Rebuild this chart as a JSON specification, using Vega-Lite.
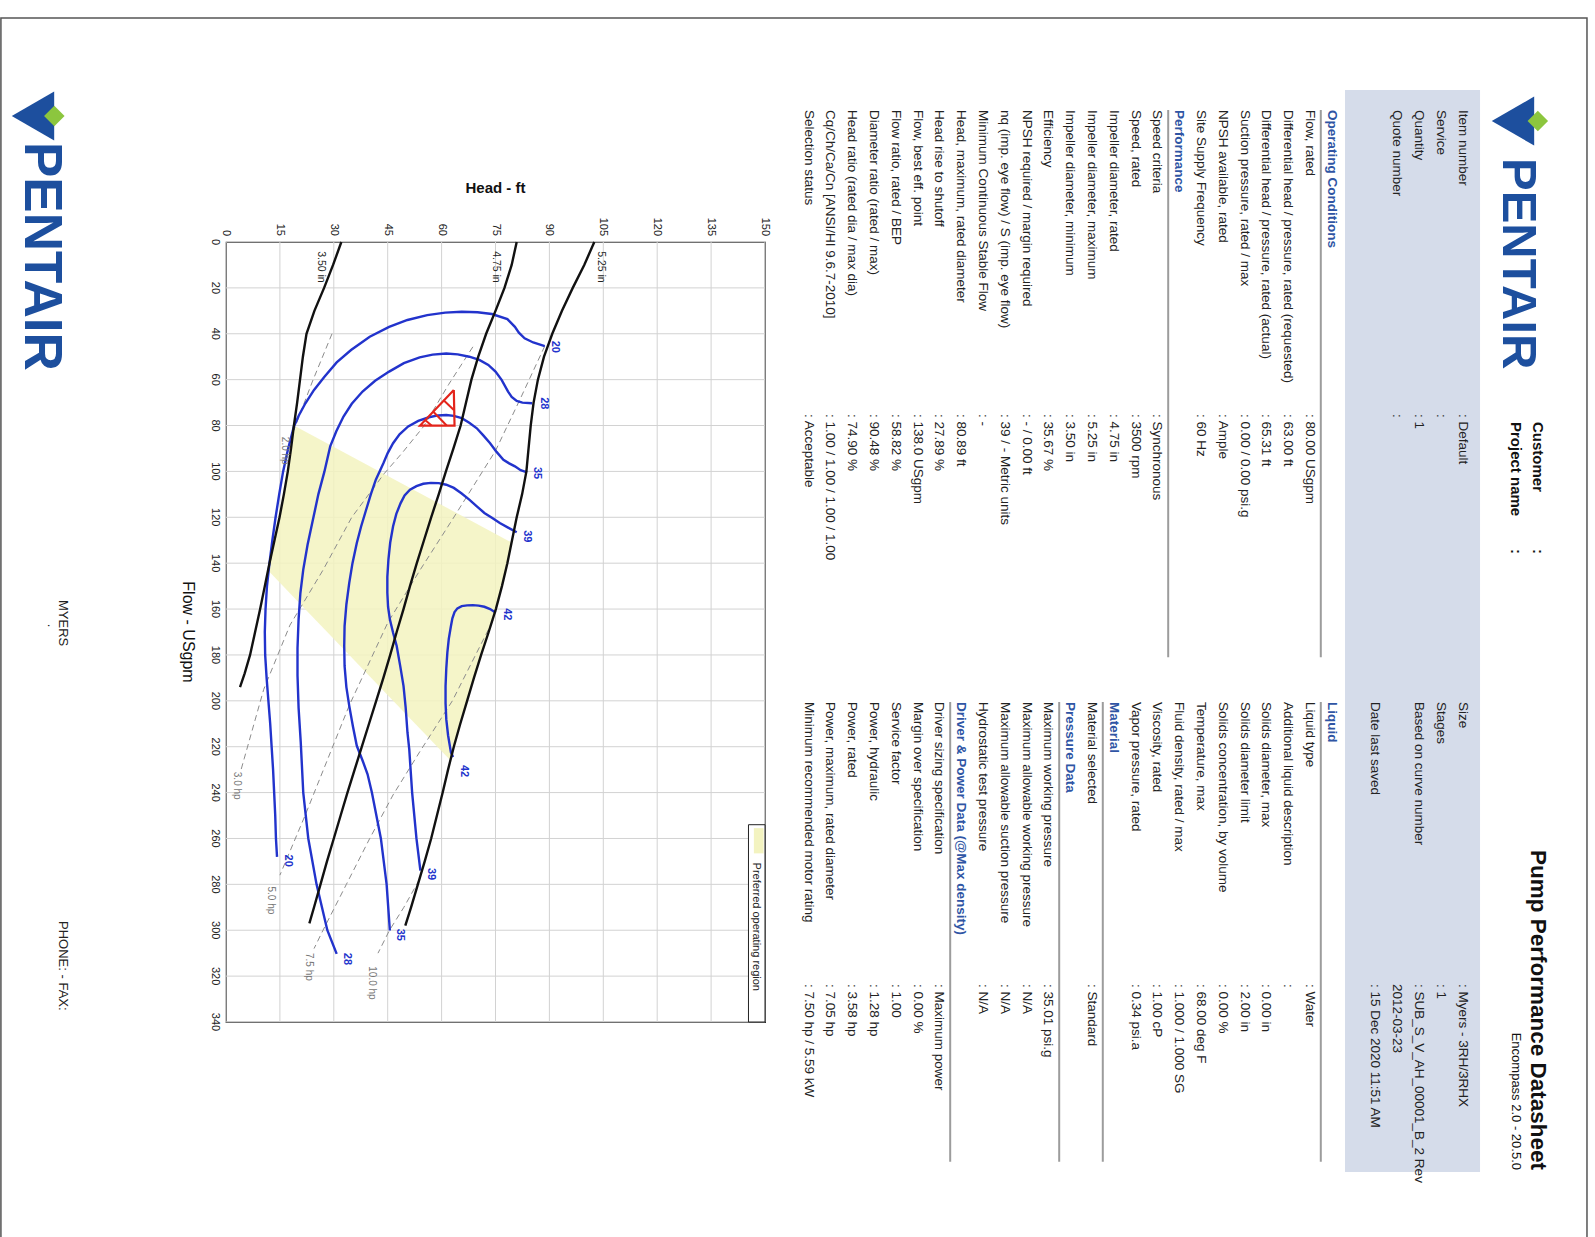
{
  "$schema": "https://vega.github.io/schema/vega-lite/v6.json",
  "width": 539,
  "height": 780,
  "autosize": {"type": "none"},
  "padding": {"left": 226, "top": 242, "right": 830, "bottom": 215},
  "background": "#ffffff",
  "config": {
    "font": "Liberation Sans",
    "view": {"stroke": "#111111", "strokeWidth": 1.2},
    "text": {"font": "Liberation Sans"}
  },
  "datasets": {
    "hTicks": [{"h":0},{"h":15},{"h":30},{"h":45},{"h":60},{"h":75},{"h":90},{"h":105},{"h":120},{"h":135},{"h":150}],
    "fTicks": [{"f":0},{"f":20},{"f":40},{"f":60},{"f":80},{"f":100},{"f":120},{"f":140},{"f":160},{"f":180},{"f":200},{"f":220},{"f":240},{"f":260},{"f":280},{"f":300},{"f":320},{"f":340}],
    "dia": [
      {"d":"5.25","flow":0,"head":102.5},{"d":"5.25","flow":10,"head":99.7},{"d":"5.25","flow":20,"head":96.5},{"d":"5.25","flow":30,"head":93.5},{"d":"5.25","flow":40,"head":90.8},{"d":"5.25","flow":50,"head":88.5},{"d":"5.25","flow":60,"head":86.8},{"d":"5.25","flow":70,"head":85.6},{"d":"5.25","flow":80,"head":84.8},{"d":"5.25","flow":90,"head":84.2},{"d":"5.25","flow":100,"head":83.6},{"d":"5.25","flow":110,"head":82.4},{"d":"5.25","flow":120,"head":80.9},{"d":"5.25","flow":130,"head":79.6},{"d":"5.25","flow":140,"head":78.3},{"d":"5.25","flow":150,"head":76.8},{"d":"5.25","flow":160,"head":75.1},{"d":"5.25","flow":170,"head":73.1},{"d":"5.25","flow":180,"head":71},{"d":"5.25","flow":190,"head":69},{"d":"5.25","flow":200,"head":67.1},{"d":"5.25","flow":210,"head":65.2},{"d":"5.25","flow":220,"head":63.4},{"d":"5.25","flow":230,"head":61.8},{"d":"5.25","flow":240,"head":60.3},{"d":"5.25","flow":250,"head":58.7},{"d":"5.25","flow":260,"head":57.1},{"d":"5.25","flow":270,"head":55.3},{"d":"5.25","flow":280,"head":53.4},{"d":"5.25","flow":290,"head":51.5},{"d":"5.25","flow":298,"head":49.9},
      {"d":"4.75","flow":0,"head":80.9},{"d":"4.75","flow":10,"head":79.5},{"d":"4.75","flow":20,"head":77.5},{"d":"4.75","flow":30,"head":75},{"d":"4.75","flow":40,"head":72.4},{"d":"4.75","flow":50,"head":70.2},{"d":"4.75","flow":60,"head":68.3},{"d":"4.75","flow":70,"head":66.8},{"d":"4.75","flow":80,"head":65.3},{"d":"4.75","flow":90,"head":63.3},{"d":"4.75","flow":100,"head":61.2},{"d":"4.75","flow":110,"head":59.2},{"d":"4.75","flow":120,"head":57.1},{"d":"4.75","flow":130,"head":55.1},{"d":"4.75","flow":140,"head":53.1},{"d":"4.75","flow":150,"head":51.2},{"d":"4.75","flow":160,"head":49.4},{"d":"4.75","flow":170,"head":47.5},{"d":"4.75","flow":180,"head":45.7},{"d":"4.75","flow":190,"head":43.8},{"d":"4.75","flow":200,"head":41.8},{"d":"4.75","flow":210,"head":39.8},{"d":"4.75","flow":220,"head":37.8},{"d":"4.75","flow":230,"head":35.8},{"d":"4.75","flow":240,"head":33.8},{"d":"4.75","flow":250,"head":31.9},{"d":"4.75","flow":260,"head":30},{"d":"4.75","flow":270,"head":28.1},{"d":"4.75","flow":280,"head":26.3},{"d":"4.75","flow":290,"head":24.5},{"d":"4.75","flow":297,"head":23.2},
      {"d":"3.50","flow":0,"head":32.1},{"d":"3.50","flow":10,"head":29.8},{"d":"3.50","flow":20,"head":27.3},{"d":"3.50","flow":30,"head":24.6},{"d":"3.50","flow":40,"head":22.4},{"d":"3.50","flow":50,"head":21.4},{"d":"3.50","flow":60,"head":20.6},{"d":"3.50","flow":70,"head":19.8},{"d":"3.50","flow":80,"head":18.9},{"d":"3.50","flow":90,"head":18.1},{"d":"3.50","flow":100,"head":17.2},{"d":"3.50","flow":110,"head":16.1},{"d":"3.50","flow":120,"head":14.9},{"d":"3.50","flow":130,"head":13.5},{"d":"3.50","flow":140,"head":12.1},{"d":"3.50","flow":150,"head":10.8},{"d":"3.50","flow":160,"head":9.5},{"d":"3.50","flow":170,"head":8.1},{"d":"3.50","flow":180,"head":6.7},{"d":"3.50","flow":188,"head":5.2},{"d":"3.50","flow":194,"head":3.9}
    ],
    "eff": [
      {"e":"20","i":0,"head":88.7,"flow":45.4},{"e":"20","i":1,"head":85.5,"flow":43.8},{"e":"20","i":2,"head":83.1,"flow":42},{"e":"20","i":3,"head":81.5,"flow":39.5},{"e":"20","i":4,"head":80.4,"flow":37},{"e":"20","i":5,"head":78.3,"flow":33.6},{"e":"20","i":6,"head":74,"flow":31.4},{"e":"20","i":7,"head":70,"flow":30.6},{"e":"20","i":8,"head":65.6,"flow":30.4},{"e":"20","i":9,"head":61,"flow":30.8},{"e":"20","i":10,"head":56,"flow":31.9},{"e":"20","i":11,"head":50.5,"flow":34},{"e":"20","i":12,"head":45.4,"flow":37},{"e":"20","i":13,"head":40,"flow":41.3},{"e":"20","i":14,"head":34.8,"flow":47.1},{"e":"20","i":15,"head":30.8,"flow":52.5},{"e":"20","i":16,"head":27.4,"flow":58.7},{"e":"20","i":17,"head":24.5,"flow":64.5},{"e":"20","i":18,"head":22.1,"flow":70.3},{"e":"20","i":19,"head":20.3,"flow":75.5},{"e":"20","i":20,"head":18.9,"flow":80.4},{"e":"20","i":21,"head":17.3,"flow":90},{"e":"20","i":22,"head":15.9,"flow":100},{"e":"20","i":23,"head":14.8,"flow":110},{"e":"20","i":24,"head":13.8,"flow":120},{"e":"20","i":25,"head":12.9,"flow":130},{"e":"20","i":26,"head":12.1,"flow":140},{"e":"20","i":27,"head":11.4,"flow":150},{"e":"20","i":28,"head":11,"flow":160},{"e":"20","i":29,"head":10.8,"flow":170},{"e":"20","i":30,"head":10.9,"flow":180},{"e":"20","i":31,"head":11.3,"flow":190},{"e":"20","i":32,"head":11.8,"flow":200},{"e":"20","i":33,"head":12.3,"flow":210},{"e":"20","i":34,"head":12.7,"flow":220},{"e":"20","i":35,"head":13.1,"flow":230},{"e":"20","i":36,"head":13.4,"flow":240},{"e":"20","i":37,"head":13.7,"flow":250},{"e":"20","i":38,"head":13.9,"flow":260},{"e":"20","i":39,"head":14.2,"flow":268},
      {"e":"28","i":0,"head":85.2,"flow":70.3},{"e":"28","i":1,"head":82.5,"flow":70},{"e":"28","i":2,"head":80.9,"flow":69.3},{"e":"28","i":3,"head":79.5,"flow":67.5},{"e":"28","i":4,"head":78.5,"flow":65.2},{"e":"28","i":5,"head":76.7,"flow":60.1},{"e":"28","i":6,"head":75,"flow":56.5},{"e":"28","i":7,"head":73,"flow":53.6},{"e":"28","i":8,"head":70.5,"flow":51.4},{"e":"28","i":9,"head":67.7,"flow":50},{"e":"28","i":10,"head":64.5,"flow":49},{"e":"28","i":11,"head":61.3,"flow":48.6},{"e":"28","i":12,"head":57.5,"flow":49.1},{"e":"28","i":13,"head":53.9,"flow":50.3},{"e":"28","i":14,"head":49.5,"flow":52.8},{"e":"28","i":15,"head":45.4,"flow":56.5},{"e":"28","i":16,"head":41.5,"flow":60.5},{"e":"28","i":17,"head":38,"flow":65.2},{"e":"28","i":18,"head":35,"flow":70.5},{"e":"28","i":19,"head":32.7,"flow":76.1},{"e":"28","i":20,"head":30.7,"flow":82.5},{"e":"28","i":21,"head":29,"flow":89.1},{"e":"28","i":22,"head":27.4,"flow":100},{"e":"28","i":23,"head":25.7,"flow":110},{"e":"28","i":24,"head":24.2,"flow":121},{"e":"28","i":25,"head":22.7,"flow":132},{"e":"28","i":26,"head":21.5,"flow":142.8},{"e":"28","i":27,"head":20.7,"flow":153},{"e":"28","i":28,"head":20.2,"flow":164.5},{"e":"28","i":29,"head":19.9,"flow":177},{"e":"28","i":30,"head":19.9,"flow":189},{"e":"28","i":31,"head":20.2,"flow":203},{"e":"28","i":32,"head":20.8,"flow":218},{"e":"28","i":33,"head":21.5,"flow":240},{"e":"28","i":34,"head":22.9,"flow":260},{"e":"28","i":35,"head":25.2,"flow":280},{"e":"28","i":36,"head":28.2,"flow":300},{"e":"28","i":37,"head":30.8,"flow":310.3},
      {"e":"35","i":0,"head":83.8,"flow":100.4},{"e":"35","i":1,"head":82,"flow":99.5},{"e":"35","i":2,"head":80.4,"flow":97.8},{"e":"35","i":3,"head":78.8,"flow":96.5},{"e":"35","i":4,"head":77.2,"flow":94.9},{"e":"35","i":5,"head":75.3,"flow":91.5},{"e":"35","i":6,"head":73.5,"flow":87.7},{"e":"35","i":7,"head":71.6,"flow":84.3},{"e":"35","i":8,"head":69.8,"flow":81.2},{"e":"35","i":9,"head":67.7,"flow":78.8},{"e":"35","i":10,"head":65.6,"flow":76.8},{"e":"35","i":11,"head":63.4,"flow":75.8},{"e":"35","i":12,"head":61.3,"flow":75.4},{"e":"35","i":13,"head":59,"flow":75.6},{"e":"35","i":14,"head":56.5,"flow":76.4},{"e":"35","i":15,"head":53.5,"flow":78},{"e":"35","i":16,"head":50.7,"flow":80.4},{"e":"35","i":17,"head":48.3,"flow":83.8},{"e":"35","i":18,"head":46.5,"flow":87.7},{"e":"35","i":19,"head":45,"flow":92},{"e":"35","i":20,"head":43.8,"flow":96.4},{"e":"35","i":21,"head":41.7,"flow":103.6},{"e":"35","i":22,"head":40.3,"flow":110},{"e":"35","i":23,"head":39,"flow":116.7},{"e":"35","i":24,"head":37.6,"flow":124},{"e":"35","i":25,"head":36.4,"flow":131.2},{"e":"35","i":26,"head":35.2,"flow":140},{"e":"35","i":27,"head":34.3,"flow":148.6},{"e":"35","i":28,"head":33.5,"flow":158},{"e":"35","i":29,"head":33,"flow":167.4},{"e":"35","i":30,"head":32.9,"flow":176},{"e":"35","i":31,"head":33,"flow":184.8},{"e":"35","i":32,"head":33.5,"flow":194},{"e":"35","i":33,"head":34.3,"flow":202.2},{"e":"35","i":34,"head":35.3,"flow":211},{"e":"35","i":35,"head":36.4,"flow":219.6},{"e":"35","i":36,"head":38,"flow":226},{"e":"35","i":37,"head":39.4,"flow":232},{"e":"35","i":38,"head":40.6,"flow":240},{"e":"35","i":39,"head":43.1,"flow":260},{"e":"35","i":40,"head":44.7,"flow":280},{"e":"35","i":41,"head":45.6,"flow":300.1},
      {"e":"39","i":0,"head":80.9,"flow":126.5},{"e":"39","i":1,"head":78.5,"flow":124.5},{"e":"39","i":2,"head":76.2,"flow":122.5},{"e":"39","i":3,"head":74,"flow":120.2},{"e":"39","i":4,"head":71.9,"flow":118.1},{"e":"39","i":5,"head":69.8,"flow":115.2},{"e":"39","i":6,"head":67.7,"flow":112.3},{"e":"39","i":7,"head":65.5,"flow":109.5},{"e":"39","i":8,"head":63.4,"flow":107.2},{"e":"39","i":9,"head":61.3,"flow":105.8},{"e":"39","i":10,"head":59.2,"flow":105.1},{"e":"39","i":11,"head":57,"flow":105},{"e":"39","i":12,"head":54.9,"flow":105.4},{"e":"39","i":13,"head":53,"flow":106.4},{"e":"39","i":14,"head":51.2,"flow":108},{"e":"39","i":15,"head":49.7,"flow":110.5},{"e":"39","i":16,"head":48.6,"flow":113.8},{"e":"39","i":17,"head":47.4,"flow":118.5},{"e":"39","i":18,"head":46.5,"flow":123.9},{"e":"39","i":19,"head":45.7,"flow":131},{"e":"39","i":20,"head":45.2,"flow":138.4},{"e":"39","i":21,"head":44.9,"flow":146},{"e":"39","i":22,"head":44.9,"flow":152.9},{"e":"39","i":23,"head":45.1,"flow":159},{"e":"39","i":24,"head":45.6,"flow":164.5},{"e":"39","i":25,"head":46.5,"flow":170.3},{"e":"39","i":26,"head":47.5,"flow":176.1},{"e":"39","i":27,"head":48.5,"flow":185},{"e":"39","i":28,"head":49.4,"flow":193.5},{"e":"39","i":29,"head":50,"flow":203},{"e":"39","i":30,"head":50.5,"flow":213.8},{"e":"39","i":31,"head":51,"flow":221.2},{"e":"39","i":32,"head":51.8,"flow":240},{"e":"39","i":33,"head":53,"flow":260},{"e":"39","i":34,"head":54.1,"flow":274},
      {"e":"42","i":0,"head":75.1,"flow":161.6},{"e":"42","i":1,"head":73.5,"flow":160},{"e":"42","i":2,"head":71.9,"flow":159},{"e":"42","i":3,"head":70.3,"flow":158.5},{"e":"42","i":4,"head":68.7,"flow":158.3},{"e":"42","i":5,"head":67.1,"flow":158.4},{"e":"42","i":6,"head":65.6,"flow":158.7},{"e":"42","i":7,"head":64.4,"flow":159.7},{"e":"42","i":8,"head":63.6,"flow":161.3},{"e":"42","i":9,"head":63,"flow":164},{"e":"42","i":10,"head":62.6,"flow":167.4},{"e":"42","i":11,"head":62,"flow":173},{"e":"42","i":12,"head":61.6,"flow":179},{"e":"42","i":13,"head":61.3,"flow":186},{"e":"42","i":14,"head":61.1,"flow":193.5},{"e":"42","i":15,"head":61.1,"flow":201},{"e":"42","i":16,"head":61.3,"flow":208},{"e":"42","i":17,"head":61.8,"flow":215},{"e":"42","i":18,"head":62.6,"flow":222.5},{"e":"42","i":19,"head":63.2,"flow":224.5}
    ],
    "pwr": [
      {"p":"2.0","flow":40,"head":29.5},{"p":"2.0","flow":61,"head":24},{"p":"2.0","flow":82,"head":18.9},
      {"p":"3.0","flow":45.7,"head":68.7},{"p":"3.0","flow":62,"head":62},{"p":"3.0","flow":80.4,"head":55},{"p":"3.0","flow":92,"head":49},{"p":"3.0","flow":101,"head":44},{"p":"3.0","flow":120,"head":35},{"p":"3.0","flow":143,"head":27},{"p":"3.0","flow":167,"head":17.8},{"p":"3.0","flow":195,"head":10.5},{"p":"3.0","flow":225,"head":5.1},{"p":"3.0","flow":230,"head":4.2},
      {"p":"5.0","flow":45.4,"head":88.7},{"p":"5.0","flow":68,"head":82},{"p":"5.0","flow":91,"head":75},{"p":"5.0","flow":121,"head":63},{"p":"5.0","flow":143,"head":54},{"p":"5.0","flow":166,"head":45},{"p":"5.0","flow":202,"head":34.3},{"p":"5.0","flow":250,"head":22},{"p":"5.0","flow":276,"head":15},
      {"p":"7.5","flow":165,"head":74.3},{"p":"7.5","flow":200,"head":63},{"p":"7.5","flow":222,"head":54},{"p":"7.5","flow":241,"head":46.5},{"p":"7.5","flow":260,"head":40},{"p":"7.5","flow":280,"head":33.5},{"p":"7.5","flow":300,"head":27},{"p":"7.5","flow":308,"head":24.5},
      {"p":"10.0","flow":278,"head":53.8},{"p":"10.0","flow":290,"head":49.5},{"p":"10.0","flow":300,"head":45.5},{"p":"10.0","flow":310,"head":42.3}
    ],
    "por": [
      {"flow":80,"lo":18.9,"hi":18.9},{"flow":90,"lo":18.1,"hi":30.8},{"flow":100,"lo":17.2,"hi":42.7},{"flow":110,"lo":16.1,"hi":54.5},{"flow":120,"lo":14.9,"hi":66.4},{"flow":131,"lo":13.4,"hi":79.5},{"flow":140,"lo":12.1,"hi":78.3},{"flow":143,"lo":11.6,"hi":77.9},{"flow":160,"lo":22,"hi":75.1},{"flow":180,"lo":34.3,"hi":71},{"flow":200,"lo":46.5,"hi":67.1},{"flow":220,"lo":58.8,"hi":63.4},{"flow":226,"lo":62.5,"hi":62.5}
    ],
    "effLabels": [
      {"t":"20","head":91.5,"flow":45.7},{"t":"28","head":88.4,"flow":70.3},{"t":"35","head":86.6,"flow":100.7},{"t":"39","head":83.8,"flow":128.3},{"t":"42","head":78.3,"flow":162.3},
      {"t":"42","head":66.1,"flow":230.6},{"t":"39","head":57.1,"flow":275.5},{"t":"35","head":48.4,"flow":302},{"t":"28","head":33.7,"flow":312.5},{"t":"20","head":17.3,"flow":269.7}
    ],
    "pwrLabels": [
      {"t":"2.0 hp","head":16.5,"flow":91},{"t":"3.0 hp","head":3,"flow":237},{"t":"5.0 hp","head":12.5,"flow":287},{"t":"7.5 hp","head":23.1,"flow":316},{"t":"10.0 hp","head":40.6,"flow":323}
    ],
    "diaLabels": [
      {"t":"5.25 in","head":104.3,"flow":4},{"t":"4.75 in","head":75.1,"flow":4},{"t":"3.50 in","head":26.5,"flow":4}
    ],
    "rated": [
      {"i":0,"head":63.4,"flow":64.5},{"i":1,"head":63.6,"flow":80},{"i":2,"head":54,"flow":80},{"i":3,"head":63.4,"flow":64.5}
    ],
    "hatch": [
      {"h1":60.5,"f1":68.9,"h2":63.4,"f2":73.2},{"h1":57.7,"f1":74,"h2":61.4,"f2":80},{"h1":55.4,"f1":77.6,"h2":57.2,"f2":80}
    ],
    "tableL": [
      {"line":-7,"label":"Item number","value":": Default"},
      {"line":-6,"label":"Service","value":":"},
      {"line":-5,"label":"Quantity","value":": 1"},
      {"line":-4,"label":"Quote number","value":":"},
      {"line":-1,"label":"Operating Conditions","head":true},
      {"line":0,"label":"Flow, rated","value":": 80.00 USgpm"},
      {"line":1,"label":"Differential head / pressure, rated (requested)","value":": 63.00 ft"},
      {"line":2,"label":"Differential head / pressure, rated (actual)","value":": 65.31 ft"},
      {"line":3,"label":"Suction pressure, rated / max","value":": 0.00 / 0.00 psi.g"},
      {"line":4,"label":"NPSH available, rated","value":": Ample"},
      {"line":5,"label":"Site Supply Frequency","value":": 60 Hz"},
      {"line":6,"label":"Performance","head":true},
      {"line":7,"label":"Speed criteria","value":": Synchronous"},
      {"line":8,"label":"Speed, rated","value":": 3500 rpm"},
      {"line":9,"label":"Impeller diameter, rated","value":": 4.75 in"},
      {"line":10,"label":"Impeller diameter, maximum","value":": 5.25 in"},
      {"line":11,"label":"Impeller diameter, minimum","value":": 3.50 in"},
      {"line":12,"label":"Efficiency","value":": 35.67 %"},
      {"line":13,"label":"NPSH required / margin required","value":": - / 0.00 ft"},
      {"line":14,"label":"nq (imp. eye flow) / S (imp. eye flow)","value":": 39 / - Metric units"},
      {"line":15,"label":"Minimum Continuous Stable Flow","value":": -"},
      {"line":16,"label":"Head, maximum, rated diameter","value":": 80.89 ft"},
      {"line":17,"label":"Head rise to shutoff","value":": 27.89 %"},
      {"line":18,"label":"Flow, best eff. point","value":": 138.0 USgpm"},
      {"line":19,"label":"Flow ratio, rated / BEP","value":": 58.82 %"},
      {"line":20,"label":"Diameter ratio (rated / max)","value":": 90.48 %"},
      {"line":21,"label":"Head ratio (rated dia / max dia)","value":": 74.90 %"},
      {"line":22,"label":"Cq/Ch/Ca/Cn [ANSI/HI 9.6.7-2010]","value":": 1.00 / 1.00 / 1.00 / 1.00"},
      {"line":23,"label":"Selection status","value":": Acceptable"}
    ],
    "tableR": [
      {"line":-7,"label":"Size","value":": Myers - 3RH/3RHX"},
      {"line":-6,"label":"Stages","value":": 1"},
      {"line":-5,"label":"Based on curve number","value":": SUB_S_V_AH_00001_B_2 Rev"},
      {"line":-4,"value":"  2012-03-23"},
      {"line":-3,"label":"Date last saved","value":": 15 Dec 2020 11:51 AM"},
      {"line":-1,"label":"Liquid","head":true},
      {"line":0,"label":"Liquid type","value":": Water"},
      {"line":1,"label":"Additional liquid description","value":":"},
      {"line":2,"label":"Solids diameter, max","value":": 0.00 in"},
      {"line":3,"label":"Solids diameter limit","value":": 2.00 in"},
      {"line":4,"label":"Solids concentration, by volume","value":": 0.00 %"},
      {"line":5,"label":"Temperature, max","value":": 68.00 deg F"},
      {"line":6,"label":"Fluid density, rated / max","value":": 1.000 / 1.000 SG"},
      {"line":7,"label":"Viscosity, rated","value":": 1.00 cP"},
      {"line":8,"label":"Vapor pressure, rated","value":": 0.34 psi.a"},
      {"line":9,"label":"Material","head":true},
      {"line":10,"label":"Material selected","value":": Standard"},
      {"line":11,"label":"Pressure Data","head":true},
      {"line":12,"label":"Maximum working pressure","value":": 35.01 psi.g"},
      {"line":13,"label":"Maximum allowable working pressure","value":": N/A"},
      {"line":14,"label":"Maximum allowable suction pressure","value":": N/A"},
      {"line":15,"label":"Hydrostatic test pressure","value":": N/A"},
      {"line":16,"label":"Driver & Power Data (@Max density)","head":true},
      {"line":17,"label":"Driver sizing specification","value":": Maximum power"},
      {"line":18,"label":"Margin over specification","value":": 0.00 %"},
      {"line":19,"label":"Service factor","value":": 1.00"},
      {"line":20,"label":"Power, hydraulic","value":": 1.28 hp"},
      {"line":21,"label":"Power, rated","value":": 3.58 hp"},
      {"line":22,"label":"Power, maximum, rated diameter","value":": 7.05 hp"},
      {"line":23,"label":"Minimum recommended motor rating","value":": 7.50 hp / 5.59 kW"}
    ]
  },
  "layer": [
    {
      "layer": [
        {
          "data": {"name": "hTicks"},
          "mark": {"type": "rule", "color": "#d2d2d2", "strokeWidth": 1},
          "encoding": {
            "x": {"field": "h", "type": "quantitative", "scale": {"domain": [0, 150], "nice": false, "zero": false}, "axis": null},
            "y": {"datum": 0, "type": "quantitative", "scale": {"domain": [0, 340], "nice": false, "zero": false, "reverse": true}, "axis": null},
            "y2": {"datum": 340}
          }
        },
        {
          "data": {"name": "fTicks"},
          "mark": {"type": "rule", "color": "#d2d2d2", "strokeWidth": 1},
          "encoding": {
            "y": {"field": "f", "type": "quantitative", "scale": {"domain": [0, 340], "nice": false, "zero": false, "reverse": true}, "axis": null},
            "x": {"datum": 0, "type": "quantitative", "scale": {"domain": [0, 150], "nice": false, "zero": false}, "axis": null},
            "x2": {"datum": 150}
          }
        },
        {
          "data": {"name": "por"},
          "mark": {"type": "area", "orient": "horizontal", "color": "#f3f3c0", "opacity": 0.85},
          "encoding": {
            "y": {"field": "flow", "type": "quantitative", "scale": {"domain": [0, 340], "nice": false, "zero": false, "reverse": true}, "axis": null},
            "x": {"field": "lo", "type": "quantitative", "scale": {"domain": [0, 150], "nice": false, "zero": false}, "axis": null},
            "x2": {"field": "hi"}
          }
        },
        {
          "data": {"name": "hTicks"},
          "mark": {"type": "text", "angle": 90, "align": "right", "baseline": "middle", "fontSize": 11, "color": "#222222", "yOffset": -6},
          "encoding": {
            "x": {"field": "h", "type": "quantitative", "scale": {"domain": [0, 150], "nice": false, "zero": false}, "axis": null},
            "y": {"datum": 0, "type": "quantitative", "scale": {"domain": [0, 340], "nice": false, "zero": false, "reverse": true}, "axis": null},
            "text": {"field": "h", "type": "quantitative"}
          }
        },
        {
          "data": {"name": "fTicks"},
          "mark": {"type": "text", "angle": 90, "align": "center", "baseline": "top", "fontSize": 11, "color": "#222222", "xOffset": -5},
          "encoding": {
            "y": {"field": "f", "type": "quantitative", "scale": {"domain": [0, 340], "nice": false, "zero": false, "reverse": true}, "axis": null},
            "x": {"datum": 0, "type": "quantitative", "scale": {"domain": [0, 150], "nice": false, "zero": false}, "axis": null},
            "text": {"field": "f", "type": "quantitative"}
          }
        },
        {
          "data": {"values": [{}]},
          "mark": {"type": "text", "text": "Head - ft", "align": "center", "baseline": "middle", "fontSize": 15, "fontWeight": "bold", "color": "#111111", "yOffset": -54},
          "encoding": {
            "x": {"datum": 75, "type": "quantitative", "scale": {"domain": [0, 150], "nice": false, "zero": false}, "axis": null},
            "y": {"datum": 0, "type": "quantitative", "scale": {"domain": [0, 340], "nice": false, "zero": false, "reverse": true}, "axis": null}
          }
        },
        {
          "data": {"values": [{}]},
          "mark": {"type": "text", "text": "Flow - USgpm", "angle": 90, "align": "center", "baseline": "middle", "fontSize": 16, "color": "#111111", "xOffset": -38},
          "encoding": {
            "x": {"datum": 0, "type": "quantitative", "scale": {"domain": [0, 150], "nice": false, "zero": false}, "axis": null},
            "y": {"datum": 170, "type": "quantitative", "scale": {"domain": [0, 340], "nice": false, "zero": false, "reverse": true}, "axis": null}
          }
        },
        {
          "data": {"name": "pwr"},
          "mark": {"type": "line", "color": "#8c8c8c", "strokeWidth": 1, "strokeDash": [6, 4]},
          "encoding": {
            "x": {"field": "head", "type": "quantitative", "scale": {"domain": [0, 150], "nice": false, "zero": false}, "axis": null},
            "y": {"field": "flow", "type": "quantitative", "scale": {"domain": [0, 340], "nice": false, "zero": false, "reverse": true}, "axis": null},
            "detail": {"field": "p", "type": "nominal"},
            "order": {"field": "flow", "type": "quantitative"}
          }
        },
        {
          "data": {"name": "eff"},
          "mark": {"type": "line", "color": "#2233cc", "strokeWidth": 2.4},
          "encoding": {
            "x": {"field": "head", "type": "quantitative", "scale": {"domain": [0, 150], "nice": false, "zero": false}, "axis": null},
            "y": {"field": "flow", "type": "quantitative", "scale": {"domain": [0, 340], "nice": false, "zero": false, "reverse": true}, "axis": null},
            "detail": {"field": "e", "type": "nominal"},
            "order": {"field": "i", "type": "quantitative"}
          }
        },
        {
          "data": {"name": "dia"},
          "mark": {"type": "line", "color": "#111111", "strokeWidth": 2.4},
          "encoding": {
            "x": {"field": "head", "type": "quantitative", "scale": {"domain": [0, 150], "nice": false, "zero": false}, "axis": null},
            "y": {"field": "flow", "type": "quantitative", "scale": {"domain": [0, 340], "nice": false, "zero": false, "reverse": true}, "axis": null},
            "detail": {"field": "d", "type": "nominal"},
            "order": {"field": "flow", "type": "quantitative"}
          }
        },
        {
          "data": {"name": "rated"},
          "mark": {"type": "line", "color": "#e3241b", "strokeWidth": 2.2},
          "encoding": {
            "x": {"field": "head", "type": "quantitative", "scale": {"domain": [0, 150], "nice": false, "zero": false}, "axis": null},
            "y": {"field": "flow", "type": "quantitative", "scale": {"domain": [0, 340], "nice": false, "zero": false, "reverse": true}, "axis": null},
            "order": {"field": "i", "type": "quantitative"}
          }
        },
        {
          "data": {"name": "hatch"},
          "mark": {"type": "rule", "color": "#e3241b", "strokeWidth": 2},
          "encoding": {
            "x": {"field": "h1", "type": "quantitative", "scale": {"domain": [0, 150], "nice": false, "zero": false}, "axis": null},
            "x2": {"field": "h2"},
            "y": {"field": "f1", "type": "quantitative", "scale": {"domain": [0, 340], "nice": false, "zero": false, "reverse": true}, "axis": null},
            "y2": {"field": "f2"}
          }
        },
        {
          "data": {"name": "effLabels"},
          "mark": {"type": "text", "angle": 90, "align": "center", "baseline": "middle", "fontSize": 11, "fontWeight": "bold", "color": "#2233cc"},
          "encoding": {
            "x": {"field": "head", "type": "quantitative", "scale": {"domain": [0, 150], "nice": false, "zero": false}, "axis": null},
            "y": {"field": "flow", "type": "quantitative", "scale": {"domain": [0, 340], "nice": false, "zero": false, "reverse": true}, "axis": null},
            "text": {"field": "t"}
          }
        },
        {
          "data": {"name": "pwrLabels"},
          "mark": {"type": "text", "angle": 90, "align": "center", "baseline": "middle", "fontSize": 10, "color": "#777777"},
          "encoding": {
            "x": {"field": "head", "type": "quantitative", "scale": {"domain": [0, 150], "nice": false, "zero": false}, "axis": null},
            "y": {"field": "flow", "type": "quantitative", "scale": {"domain": [0, 340], "nice": false, "zero": false, "reverse": true}, "axis": null},
            "text": {"field": "t"}
          }
        },
        {
          "data": {"name": "diaLabels"},
          "mark": {"type": "text", "angle": 90, "align": "left", "baseline": "middle", "fontSize": 10.5, "color": "#222222"},
          "encoding": {
            "x": {"field": "head", "type": "quantitative", "scale": {"domain": [0, 150], "nice": false, "zero": false}, "axis": null},
            "y": {"field": "flow", "type": "quantitative", "scale": {"domain": [0, 340], "nice": false, "zero": false, "reverse": true}, "axis": null},
            "text": {"field": "t"}
          }
        },
        {
          "data": {"values": [{}]},
          "mark": {"type": "rect", "fill": "#ffffff", "stroke": "#222222", "strokeWidth": 1},
          "encoding": {
            "x": {"datum": 145.4, "type": "quantitative", "scale": {"domain": [0, 150], "nice": false, "zero": false}, "axis": null},
            "x2": {"datum": 150},
            "y": {"datum": 254, "type": "quantitative", "scale": {"domain": [0, 340], "nice": false, "zero": false, "reverse": true}, "axis": null},
            "y2": {"datum": 340}
          }
        },
        {
          "data": {"values": [{}]},
          "mark": {"type": "rect", "fill": "#f3f3c0"},
          "encoding": {
            "x": {"datum": 146.9, "type": "quantitative", "scale": {"domain": [0, 150], "nice": false, "zero": false}, "axis": null},
            "x2": {"datum": 149.6},
            "y": {"datum": 255.5, "type": "quantitative", "scale": {"domain": [0, 340], "nice": false, "zero": false, "reverse": true}, "axis": null},
            "y2": {"datum": 266.5}
          }
        },
        {
          "data": {"values": [{}]},
          "mark": {"type": "text", "text": "Preferred operating region", "angle": 90, "align": "left", "baseline": "middle", "fontSize": 11, "color": "#222222"},
          "encoding": {
            "x": {"datum": 147.6, "type": "quantitative", "scale": {"domain": [0, 150], "nice": false, "zero": false}, "axis": null},
            "y": {"datum": 270.5, "type": "quantitative", "scale": {"domain": [0, 340], "nice": false, "zero": false, "reverse": true}, "axis": null}
          }
        }
      ]
    },
    {
      "layer": [
        {
          "data": {"values": [{}]},
          "mark": {"type": "rect", "color": "#d5dcea"},
          "encoding": {
            "x": {"datum": -7.8, "type": "quantitative", "scale": {"domain": [25, 49.725], "reverse": true, "nice": false, "zero": false}, "axis": null},
            "x2": {"datum": -1.606},
            "y": {"datum": -0.0658, "type": "quantitative", "scale": {"domain": [0.43421, 3.0], "reverse": true, "nice": false, "zero": false}, "axis": null},
            "y2": {"datum": 3.4934}
          }
        },
        {
          "data": {"values": [{}]},
          "mark": {"type": "rect", "filled": false, "color": "#555555", "strokeWidth": 1.5},
          "encoding": {
            "x": {"datum": -12.706, "type": "quantitative", "scale": {"domain": [25, 49.725], "reverse": true, "nice": false, "zero": false}, "axis": null},
            "x2": {"datum": 60.05},
            "y": {"datum": -0.3026, "type": "quantitative", "scale": {"domain": [0.43421, 3.0], "reverse": true, "nice": false, "zero": false}, "axis": null},
            "y2": {"datum": 3.72}
          }
        },
        {
          "data": {"name": "tableL"},
          "transform": [{"filter": "datum.head === true"}],
          "mark": {"type": "rule", "color": "#9c9c9c", "strokeWidth": 2, "xOffset": -11},
          "encoding": {
            "x": {"field": "line", "type": "quantitative", "scale": {"domain": [25, 49.725], "reverse": true, "nice": false, "zero": false}, "axis": null},
            "y": {"datum": 0, "type": "quantitative", "scale": {"domain": [0.43421, 3.0], "reverse": true, "nice": false, "zero": false}, "axis": null},
            "y2": {"datum": 1.8}
          }
        },
        {
          "data": {"name": "tableL"},
          "transform": [{"filter": "isValid(datum.label) && datum.head !== true"}],
          "mark": {"type": "text", "angle": 90, "align": "left", "baseline": "middle", "fontSize": 13.5, "color": "#222222"},
          "encoding": {
            "x": {"field": "line", "type": "quantitative", "scale": {"domain": [25, 49.725], "reverse": true, "nice": false, "zero": false}, "axis": null},
            "y": {"datum": 0, "type": "quantitative", "scale": {"domain": [0.43421, 3.0], "reverse": true, "nice": false, "zero": false}, "axis": null},
            "text": {"field": "label"}
          }
        },
        {
          "data": {"name": "tableL"},
          "transform": [{"filter": "datum.head === true"}],
          "mark": {"type": "text", "angle": 90, "align": "left", "baseline": "middle", "fontSize": 13.5, "fontWeight": "bold", "color": "#2f55a4"},
          "encoding": {
            "x": {"field": "line", "type": "quantitative", "scale": {"domain": [25, 49.725], "reverse": true, "nice": false, "zero": false}, "axis": null},
            "y": {"datum": 0, "type": "quantitative", "scale": {"domain": [0.43421, 3.0], "reverse": true, "nice": false, "zero": false}, "axis": null},
            "text": {"field": "label"}
          }
        },
        {
          "data": {"name": "tableL"},
          "transform": [{"filter": "isValid(datum.value)"}],
          "mark": {"type": "text", "angle": 90, "align": "left", "baseline": "middle", "fontSize": 13.5, "color": "#222222"},
          "encoding": {
            "x": {"field": "line", "type": "quantitative", "scale": {"domain": [25, 49.725], "reverse": true, "nice": false, "zero": false}, "axis": null},
            "y": {"datum": 1, "type": "quantitative", "scale": {"domain": [0.43421, 3.0], "reverse": true, "nice": false, "zero": false}, "axis": null},
            "text": {"field": "value"}
          }
        },
        {
          "data": {"values": [{"t": "Customer", "line": -10.46}, {"t": "Project name", "line": -9.45}]},
          "mark": {"type": "text", "angle": 90, "align": "left", "baseline": "middle", "fontSize": 15, "fontWeight": "bold", "color": "#111111"},
          "encoding": {
            "x": {"field": "line", "type": "quantitative", "scale": {"domain": [25, 49.725], "reverse": true, "nice": false, "zero": false}, "axis": null},
            "y": {"datum": 1.0263, "type": "quantitative", "scale": {"domain": [0.43421, 3.0], "reverse": true, "nice": false, "zero": false}, "axis": null},
            "text": {"field": "t"}
          }
        },
        {
          "data": {"values": [{"t": ":", "line": -10.46}, {"t": ":", "line": -9.45}]},
          "mark": {"type": "text", "angle": 90, "align": "left", "baseline": "middle", "fontSize": 15, "fontWeight": "bold", "color": "#111111"},
          "encoding": {
            "x": {"field": "line", "type": "quantitative", "scale": {"domain": [25, 49.725], "reverse": true, "nice": false, "zero": false}, "axis": null},
            "y": {"datum": 1.4441, "type": "quantitative", "scale": {"domain": [0.43421, 3.0], "reverse": true, "nice": false, "zero": false}, "axis": null},
            "text": {"field": "t"}
          }
        },
        {
          "data": {"values": [{}]},
          "mark": {"type": "text", "text": "PENTAIR", "angle": 90, "align": "left", "baseline": "middle", "fontSize": 49, "fontWeight": "bold", "color": "#1d4f9e"},
          "encoding": {
            "x": {"datum": -9.54, "type": "quantitative", "scale": {"domain": [25, 49.725], "reverse": true, "nice": false, "zero": false}, "axis": null},
            "y": {"datum": 0.1579, "type": "quantitative", "scale": {"domain": [0.43421, 3.0], "reverse": true, "nice": false, "zero": false}, "axis": null}
          }
        },
        {
          "data": {"values": [{}]},
          "mark": {"type": "text", "text": "PENTAIR", "angle": 90, "align": "left", "baseline": "middle", "fontSize": 53, "fontWeight": "bold", "color": "#1d4f9e"},
          "encoding": {
            "x": {"datum": 58.21, "type": "quantitative", "scale": {"domain": [25, 49.725], "reverse": true, "nice": false, "zero": false}, "axis": null},
            "y": {"datum": 0.1053, "type": "quantitative", "scale": {"domain": [0.43421, 3.0], "reverse": true, "nice": false, "zero": false}, "axis": null}
          }
        },
        {
          "data": {"values": [{"line": -9.31, "c": 0.0362}, {"line": 58.58, "c": 0.0197}]},
          "mark": {"type": "point", "shape": "triangle-left", "filled": true, "opacity": 1, "color": "#1d4f9e", "size": 2400},
          "encoding": {
            "x": {"field": "line", "type": "quantitative", "scale": {"domain": [25, 49.725], "reverse": true, "nice": false, "zero": false}, "axis": null},
            "y": {"field": "c", "type": "quantitative", "scale": {"domain": [0.43421, 3.0], "reverse": true, "nice": false, "zero": false}, "axis": null}
          }
        },
        {
          "data": {"values": [{"line": -10.45, "c": 0.0362}, {"line": 57.6, "c": 0.0197}]},
          "mark": {"type": "point", "shape": "diamond", "filled": true, "opacity": 1, "color": "#8cc63e", "size": 420},
          "encoding": {
            "x": {"field": "line", "type": "quantitative", "scale": {"domain": [25, 49.725], "reverse": true, "nice": false, "zero": false}, "axis": null},
            "y": {"field": "c", "type": "quantitative", "scale": {"domain": [0.43421, 3.0], "reverse": true, "nice": false, "zero": false}, "axis": null}
          }
        },
        {
          "data": {"values": [{"t": "MYERS", "c": 1.6118}, {"t": "PHONE: - FAX:", "c": 2.6678}]},
          "mark": {"type": "text", "angle": 90, "align": "left", "baseline": "middle", "fontSize": 13, "color": "#222222"},
          "encoding": {
            "x": {"datum": 57.2, "type": "quantitative", "scale": {"domain": [25, 49.725], "reverse": true, "nice": false, "zero": false}, "axis": null},
            "y": {"field": "c", "type": "quantitative", "scale": {"domain": [0.43421, 3.0], "reverse": true, "nice": false, "zero": false}, "axis": null},
            "text": {"field": "t"}
          }
        },
        {
          "data": {"values": [{}]},
          "mark": {"type": "text", "text": ".", "angle": 90, "align": "left", "baseline": "middle", "fontSize": 13, "color": "#222222"},
          "encoding": {
            "x": {"datum": 57.7, "type": "quantitative", "scale": {"domain": [25, 49.725], "reverse": true, "nice": false, "zero": false}, "axis": null},
            "y": {"datum": 1.69, "type": "quantitative", "scale": {"domain": [0.43421, 3.0], "reverse": true, "nice": false, "zero": false}, "axis": null}
          }
        }
      ]
    },
    {
      "layer": [
        {
          "data": {"name": "tableR"},
          "transform": [{"filter": "datum.head === true"}],
          "mark": {"type": "rule", "color": "#9c9c9c", "strokeWidth": 2, "xOffset": -11},
          "encoding": {
            "x": {"field": "line", "type": "quantitative", "scale": {"domain": [25, 49.725], "reverse": true, "nice": false, "zero": false}, "axis": null},
            "y": {"datum": 0, "type": "quantitative", "scale": {"domain": [-1.63121, 1.13475], "reverse": true, "nice": false, "zero": false}, "axis": null},
            "y2": {"datum": 1.63}
          }
        },
        {
          "data": {"name": "tableR"},
          "transform": [{"filter": "isValid(datum.label) && datum.head !== true"}],
          "mark": {"type": "text", "angle": 90, "align": "left", "baseline": "middle", "fontSize": 13.5, "color": "#222222"},
          "encoding": {
            "x": {"field": "line", "type": "quantitative", "scale": {"domain": [25, 49.725], "reverse": true, "nice": false, "zero": false}, "axis": null},
            "y": {"datum": 0, "type": "quantitative", "scale": {"domain": [-1.63121, 1.13475], "reverse": true, "nice": false, "zero": false}, "axis": null},
            "text": {"field": "label"}
          }
        },
        {
          "data": {"name": "tableR"},
          "transform": [{"filter": "datum.head === true"}],
          "mark": {"type": "text", "angle": 90, "align": "left", "baseline": "middle", "fontSize": 13.5, "fontWeight": "bold", "color": "#2f55a4"},
          "encoding": {
            "x": {"field": "line", "type": "quantitative", "scale": {"domain": [25, 49.725], "reverse": true, "nice": false, "zero": false}, "axis": null},
            "y": {"datum": 0, "type": "quantitative", "scale": {"domain": [-1.63121, 1.13475], "reverse": true, "nice": false, "zero": false}, "axis": null},
            "text": {"field": "label"}
          }
        },
        {
          "data": {"name": "tableR"},
          "transform": [{"filter": "isValid(datum.value)"}],
          "mark": {"type": "text", "angle": 90, "align": "left", "baseline": "middle", "fontSize": 13.5, "color": "#222222"},
          "encoding": {
            "x": {"field": "line", "type": "quantitative", "scale": {"domain": [25, 49.725], "reverse": true, "nice": false, "zero": false}, "axis": null},
            "y": {"datum": 1, "type": "quantitative", "scale": {"domain": [-1.63121, 1.13475], "reverse": true, "nice": false, "zero": false}, "axis": null},
            "text": {"field": "value"}
          }
        },
        {
          "data": {"values": [{}]},
          "mark": {"type": "text", "text": "Pump Performance Datasheet", "angle": 90, "align": "right", "baseline": "middle", "fontSize": 22.5, "fontWeight": "bold", "color": "#111111"},
          "encoding": {
            "x": {"datum": -10.46, "type": "quantitative", "scale": {"domain": [25, 49.725], "reverse": true, "nice": false, "zero": false}, "axis": null},
            "y": {"datum": 1.6596, "type": "quantitative", "scale": {"domain": [-1.63121, 1.13475], "reverse": true, "nice": false, "zero": false}, "axis": null}
          }
        },
        {
          "data": {"values": [{}]},
          "mark": {"type": "text", "text": "Encompass 2.0 - 20.5.0", "angle": 90, "align": "right", "baseline": "middle", "fontSize": 13, "color": "#111111"},
          "encoding": {
            "x": {"datum": -9.45, "type": "quantitative", "scale": {"domain": [25, 49.725], "reverse": true, "nice": false, "zero": false}, "axis": null},
            "y": {"datum": 1.6596, "type": "quantitative", "scale": {"domain": [-1.63121, 1.13475], "reverse": true, "nice": false, "zero": false}, "axis": null}
          }
        }
      ]
    }
  ],
  "resolve": {"scale": {"x": "independent", "y": "independent"}}
}
